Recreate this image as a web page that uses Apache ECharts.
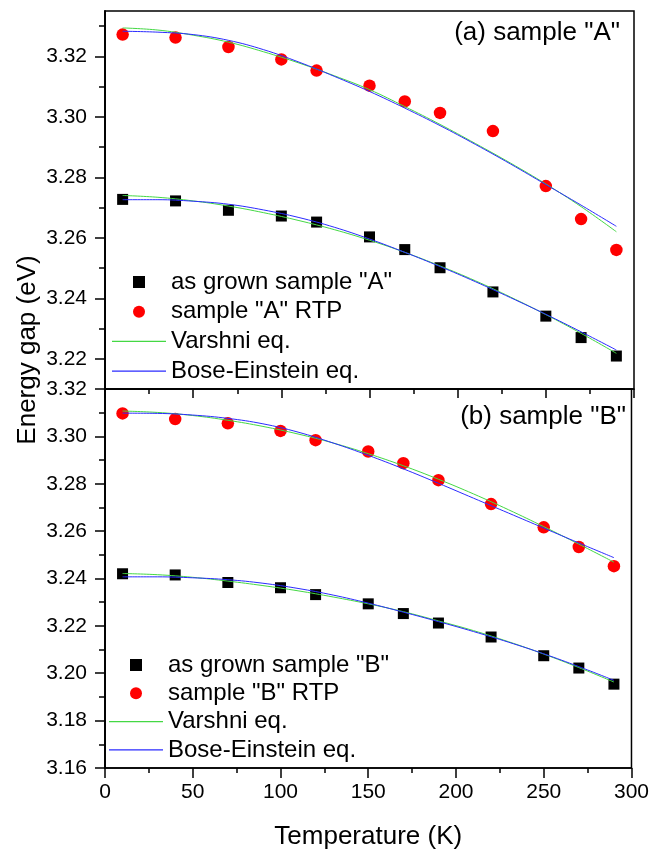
<!DOCTYPE html>
<html>
<head>
<meta charset="utf-8">
<script src="https://cdn.jsdelivr.net/npm/echarts@6/dist/echarts.min.js"></script>
<style>
html, body { margin: 0; padding: 0; background: #fff; }
#chart { width: 652px; height: 851px; }
</style>
</head>
<body>
<div id="chart"></div>
<script>
const FONT = 'Liberation Sans, Arial, sans-serif'

// measured temperatures (K) and fit sample temperatures
const tempPoints = [10, 40, 70, 100, 120, 150, 170, 190, 220, 250, 270, 290]
const tempFit = [10, 30, 50, 70, 90, 110, 130, 150, 170, 190, 210, 230, 250, 270, 290]

// panel (a) sample "A"
const grownA = [3.2727, 3.2722, 3.2691, 3.2672, 3.2652, 3.2603, 3.2561, 3.2501, 3.2421, 3.2341, 3.2270, 3.2209]
const rtpA = [3.3272, 3.3262, 3.3231, 3.3190, 3.3153, 3.3103, 3.3051, 3.3013, 3.2953, 3.2771, 3.2662, 3.2560]
const varshniGrownA = [3.2740, 3.2734, 3.2722, 3.2705, 3.2683, 3.2657, 3.2627, 3.2592, 3.2552, 3.2507, 3.2458, 3.2404, 3.2346, 3.2284, 3.2218]
const boseGrownA = [3.2726, 3.2726, 3.2721, 3.2711, 3.2692, 3.2667, 3.2635, 3.2596, 3.2552, 3.2505, 3.2455, 3.2402, 3.2347, 3.2289, 3.2229]
const varshniRtpA = [3.3294, 3.3287, 3.3270, 3.3247, 3.3215, 3.3178, 3.3136, 3.3090, 3.3034, 3.2975, 3.2912, 3.2847, 3.2778, 3.2703, 3.2620]
const boseRtpA = [3.3283, 3.3280, 3.3272, 3.3253, 3.3222, 3.3181, 3.3134, 3.3084, 3.3029, 3.2971, 3.2909, 3.2844, 3.2776, 3.2708, 3.2638]

// panel (b) sample "B"
const grownB = [3.2420, 3.2415, 3.2383, 3.2361, 3.2332, 3.2293, 3.2252, 3.2212, 3.2153, 3.2074, 3.2022, 3.1954]
const rtpB = [3.3097, 3.3073, 3.3055, 3.3023, 3.2984, 3.2936, 3.2887, 3.2815, 3.2714, 3.2616, 3.2533, 3.2452]
const varshniGrownB = [3.2421, 3.2416, 3.2405, 3.2389, 3.2370, 3.2348, 3.2322, 3.2293, 3.2260, 3.2221, 3.2180, 3.2133, 3.2081, 3.2024, 3.1963]
const boseGrownB = [3.2407, 3.2407, 3.2403, 3.2395, 3.2380, 3.2358, 3.2330, 3.2296, 3.2258, 3.2218, 3.2176, 3.2131, 3.2082, 3.2028, 3.1970]
const varshniRtpB = [3.3107, 3.3101, 3.3088, 3.3068, 3.3042, 3.3010, 3.2972, 3.2927, 3.2876, 3.2819, 3.2757, 3.2690, 3.2619, 3.2545, 3.2469]
const boseRtpB = [3.3098, 3.3097, 3.3090, 3.3076, 3.3053, 3.3018, 3.2972, 3.2920, 3.2863, 3.2802, 3.2739, 3.2676, 3.2613, 3.2550, 3.2488]

// y ticks
const ticksA = [3.22, 3.24, 3.26, 3.28, 3.30, 3.32]
const minorTicksA = [3.23, 3.25, 3.27, 3.29, 3.31, 3.33]
const ticksB = [3.16, 3.18, 3.20, 3.22, 3.24, 3.26, 3.28, 3.30, 3.32]
const minorTicksB = [3.17, 3.19, 3.21, 3.23, 3.25, 3.27, 3.29, 3.31]

const GREEN = '#44d844'
const BLUE = '#2b2bff'
const black = { color: '#000', width: 1.5 }

// legend icons (kept in aspect by the legend)
const ICON_SQUARE = 'path://M0,0L10,0L10,10L0,10Z'
const ICON_LINE = 'path://M0,0L54,0L54,1.2L0,1.2Z'

const pairs = (xs, ys) => xs.map((x, i) => [x, ys[i]])

const yAxes = (gridIndex, min, max, major, minor) => [
  {
    gridIndex, type: 'value', min, max, position: 'left',
    axisLine: { show: true, lineStyle: black },
    axisTick: { show: true, customValues: major, length: 10, lineStyle: black },
    axisLabel: {
      customValues: major, formatter: v => v.toFixed(2), margin: 18,
      fontSize: 21, color: '#000', fontFamily: FONT
    },
    splitLine: { show: false }
  },
  {
    gridIndex, type: 'value', min, max, position: 'left',
    axisLine: { show: true, lineStyle: black },
    axisTick: { show: true, customValues: minor, length: 6, lineStyle: black },
    axisLabel: { show: false },
    splitLine: { show: false }
  }
]

const xAxis = (gridIndex, withLabels) => ({
  gridIndex, type: 'value', min: 0, max: 300, interval: 50, position: 'bottom',
  axisLine: { show: true, lineStyle: black },
  axisTick: { show: true, length: withLabels ? 10 : 9, lineStyle: black },
  minorTick: { show: true, splitNumber: 2, length: 5, lineStyle: black },
  axisLabel: { show: withLabels, margin: 14, fontSize: 21, color: '#000', fontFamily: FONT },
  splitLine: { show: false },
  name: withLabels ? 'Temperature (K)' : '',
  nameLocation: 'middle',
  nameGap: 56,
  nameTextStyle: { fontSize: 26, color: '#000', fontFamily: FONT }
})

const panelSeries = (idx, grownName, rtpName, grown, rtp, vGrown, bGrown, vRtp, bRtp) => {
  const axes = { xAxisIndex: idx, yAxisIndex: idx * 2 }
  const fit = (name, data, color) => ({
    ...axes, type: 'line', name, data: pairs(tempFit, data), smooth: 0.4,
    symbol: 'none', lineStyle: { color, width: 1 }, itemStyle: { color, opacity: 1 }
  })
  return [
    { ...axes, type: 'scatter', name: grownName, symbol: 'rect', symbolSize: 11,
      itemStyle: { color: '#000', opacity: 1 }, data: pairs(tempPoints, grown) },
    { ...axes, type: 'scatter', name: rtpName, symbol: 'circle', symbolSize: 12.5,
      itemStyle: { color: '#ff0000', opacity: 1 }, data: pairs(tempPoints, rtp) },
    fit('Varshni eq.', vGrown, GREEN),
    fit('Bose-Einstein eq.', bGrown, BLUE),
    fit('Varshni eq.', vRtp, GREEN),
    fit('Bose-Einstein eq.', bRtp, BLUE)
  ]
}

const legend = (left, top, gap, grownName, rtpName) => ({
  left, top, orient: 'vertical', padding: 0, itemGap: gap,
  itemWidth: 54, itemHeight: 12, selectedMode: false, symbolKeepAspect: true,
  textStyle: { fontSize: 24, lineHeight: 24, color: '#000', fontFamily: FONT },
  data: [
    { name: grownName, icon: ICON_SQUARE, itemStyle: { color: '#000', opacity: 1 } },
    { name: rtpName, icon: 'circle', itemStyle: { color: '#ff0000', opacity: 1 } },
    { name: 'Varshni eq.', icon: ICON_LINE, itemStyle: { color: GREEN, opacity: 1 } },
    { name: 'Bose-Einstein eq.', icon: ICON_LINE, itemStyle: { color: BLUE, opacity: 1 } }
  ]
})

const chart = echarts.init(document.getElementById('chart'))
chart.setOption({
  animation: false,
  backgroundColor: '#fff',
  textStyle: { fontFamily: FONT },
  title: [
    { text: '(a) sample "A"', right: 32, top: 20, padding: 0,
      textStyle: { fontSize: 26, fontWeight: 'normal', color: '#000', fontFamily: FONT } },
    { text: '(b) sample "B"', right: 26, top: 404, padding: 0,
      textStyle: { fontSize: 26, fontWeight: 'normal', color: '#000', fontFamily: FONT } }
  ],
  legend: [
    legend(112, 270, 5.7, 'as grown sample "A"', 'sample "A" RTP'),
    legend(109, 653, 4.3, 'as grown sample "B"', 'sample "B" RTP')
  ],
  grid: [
    { left: 105, right: 18, top: 11, height: 378, show: true, borderColor: '#000', borderWidth: 1.5 },
    { left: 105, right: 18, top: 389, height: 379.5, show: true, borderColor: '#000', borderWidth: 1.5 }
  ],
  xAxis: [xAxis(0, false), xAxis(1, true)],
  yAxis: [
    ...yAxes(0, 3.21, 3.335, ticksA, minorTicksA),
    ...yAxes(1, 3.16, 3.32, ticksB, minorTicksB)
  ],
  graphic: [{
    type: 'text', x: 28, y: 350, rotation: Math.PI / 2,
    style: { text: 'Energy gap (eV)', fontSize: 26, fontFamily: FONT, fill: '#000',
      align: 'center', verticalAlign: 'middle' }
  }],
  series: [
    ...panelSeries(0, 'as grown sample "A"', 'sample "A" RTP', grownA, rtpA,
      varshniGrownA, boseGrownA, varshniRtpA, boseRtpA),
    ...panelSeries(1, 'as grown sample "B"', 'sample "B" RTP', grownB, rtpB,
      varshniGrownB, boseGrownB, varshniRtpB, boseRtpB)
  ]
})
</script>
</body>
</html>
